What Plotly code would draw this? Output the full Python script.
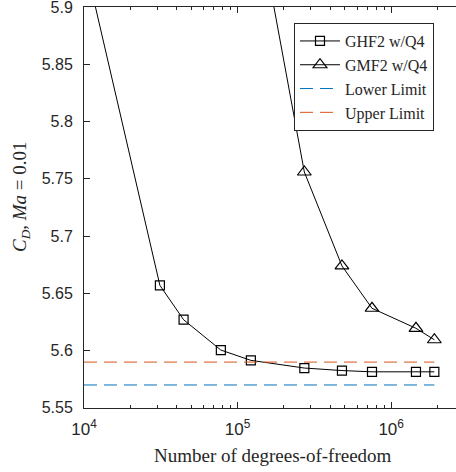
import plotly.graph_objects as go

dof_ghf = [10500, 31200, 44500, 77800, 122000, 272000, 478000, 750000, 1450000, 1910000]
cd_ghf = [5.931, 5.657, 5.627, 5.6005, 5.5915, 5.5848, 5.5826, 5.5815, 5.5815, 5.5815]
dof_gmf = [144000, 272000, 478000, 750000, 1450000, 1910000]
cd_gmf = [5.957, 5.756, 5.674, 5.637, 5.6195, 5.6095]
limit_x = [10000, 1910000]
lower_limit = 5.57
upper_limit = 5.59
x_major = [1e4, 1e5, 1e6]
x_major_text = ["10<sup>4</sup>", "10<sup>5</sup>", "10<sup>6</sup>"]
x_minor = [m * 10 ** e for e in (4, 5, 6) for m in range(2, 10) if m * 10 ** e < 2.6e6]
y_ticks = [5.55, 5.6, 5.65, 5.7, 5.75, 5.8, 5.85, 5.9]
y_text = ["5.55", "5.6", "5.65", "5.7", "5.75", "5.8", "5.85", "5.9"]

serif = "Liberation Serif"
sans = "Liberation Sans"
axc = "#262626"
x_range = [4, 6.422]

fig = go.Figure()
fig.add_trace(go.Scatter(x=dof_ghf, y=cd_ghf, mode="lines+markers", name="GHF2 w/Q4",
                         line=dict(color="black", width=1),
                         marker=dict(symbol="square-open", size=9, color="black", line=dict(width=1.2))))
fig.add_trace(go.Scatter(x=dof_gmf, y=cd_gmf, mode="lines+markers", name="GMF2 w/Q4",
                         line=dict(color="black", width=1),
                         marker=dict(symbol="triangle-up-open", size=12, color="black", line=dict(width=1.2))))
# drawn on the overlay axis (same range) that carries the minor ticks
fig.add_trace(go.Scatter(x=limit_x, y=[lower_limit] * 2, mode="lines", name="Lower Limit", xaxis="x2",
                         line=dict(color="#0072BD", width=1, dash="13px,7px")))
fig.add_trace(go.Scatter(x=limit_x, y=[upper_limit] * 2, mode="lines", name="Upper Limit",
                         line=dict(color="#D95319", width=1, dash="13px,7px")))

fig.update_layout(
    width=456, height=472,
    margin=dict(l=84, r=0, t=7, b=64),
    plot_bgcolor="white", paper_bgcolor="white",
    showlegend=True,
    legend=dict(x=0.5645, y=0.96, xanchor="left", yanchor="top",
                bgcolor="white", bordercolor=axc, borderwidth=1,
                font=dict(family=serif, size=16, color=axc),
                tracegroupgap=0, itemwidth=40),
    xaxis=dict(type="log", range=x_range, tickmode="array", tickvals=x_major, ticktext=x_major_text,
               ticks="inside", ticklen=6, tickcolor=axc, showline=True, linecolor=axc, linewidth=1,
               mirror="ticks", showgrid=False, zeroline=False, ticklabelstandoff=6,
               tickfont=dict(family=sans, size=17, color=axc)),
    xaxis2=dict(type="log", range=x_range, overlaying="x", anchor="y", side="bottom",
                tickmode="array", tickvals=x_minor, showticklabels=False,
                ticks="inside", ticklen=3, tickcolor=axc, tickwidth=1, mirror="ticks", showline=False,
                showgrid=False, zeroline=False),
    yaxis=dict(range=[5.5499, 5.9001], tickmode="array", tickvals=y_ticks, ticktext=y_text,
               ticks="inside", ticklen=6, tickcolor=axc, showline=True, linecolor=axc, linewidth=1,
               showgrid=False, zeroline=False, ticklabelstandoff=7, ticklabeloverflow="allow",
               tickfont=dict(family=sans, size=16, color=axc)),
    annotations=[
        dict(text="<i>C</i><sub><i>D</i></sub>, <i>Ma</i> = 0.01", xref="paper", yref="paper",
             x=0.0, xshift=-63, y=(408 - 197) / 401, textangle=-90, showarrow=False,
             font=dict(family=serif, size=19, color=axc), xanchor="center", yanchor="middle"),
        dict(text="Number of degrees-of-freedom", xref="paper", yref="paper",
             x=(273 - 84) / 372, y=0, yshift=-47, showarrow=False,
             font=dict(family=serif, size=19, color=axc), xanchor="center", yanchor="middle"),
    ],
)

fig.write_html("out.html")
